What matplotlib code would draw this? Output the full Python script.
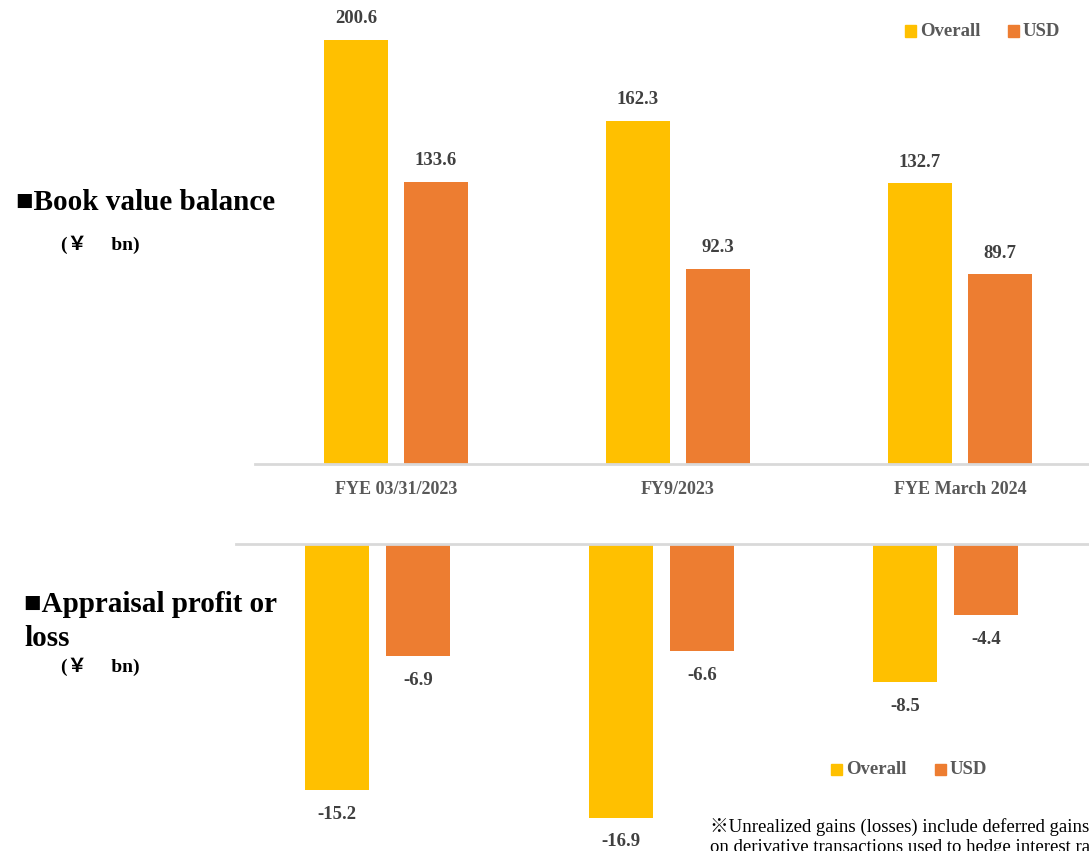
import matplotlib
matplotlib.use("Agg")
import matplotlib.pyplot as plt
from matplotlib.patches import Rectangle

categories = ["FYE 03/31/2023", "FY9/2023", "FYE March 2024"]
book_overall = [200.6, 162.3, 132.7]
book_usd = [133.6, 92.3, 89.7]
pl_overall = [-15.2, -16.9, -8.5]
pl_usd = [-6.9, -6.6, -4.4]
series_names = ["Overall", "USD"]

C_OVERALL = "#FFC000"
C_USD = "#ED7D31"
LABEL_GREY = "#595959"
VALUE_GREY = "#404040"
SERIF = ["Liberation Serif", "Noto Sans CJK JP", "DejaVu Serif"]

W, H = 1089, 851
fig = plt.figure(figsize=(W / 100, H / 100), dpi=100)


def px_axes(x0, x1, y_top, y_bot):
    return fig.add_axes([x0 / W, 1 - y_bot / H, (x1 - x0) / W, (y_bot - y_top) / H])


def ftext(x, y, s, **kw):
    """Place text with pixel coordinates measured from the top-left corner."""
    kw.setdefault("fontfamily", SERIF)
    kw.setdefault("ha", "left")
    kw.setdefault("va", "center")
    return fig.text(x / W, 1 - y / H, s, **kw)


def style(ax):
    for s in ax.spines.values():
        s.set_visible(False)
    ax.set_yticks([])
    ax.tick_params(axis="x", length=0)
    ax.patch.set_alpha(0)


bw = 0.225
off = 0.142
xs = list(range(len(categories)))

# Book value balance
ax1 = px_axes(255, 1101, 0, 464)
style(ax1)
b1 = ax1.bar([x - off for x in xs], book_overall, bw, color=C_OVERALL)
b2 = ax1.bar([x + off for x in xs], book_usd, bw, color=C_USD)
ax1.set_xlim(-0.5, 2.5)
ax1.set_ylim(0, 219.5)
ax1.axhline(0, color="#d9d9d9", lw=2, clip_on=False)
ax1.set_xticks(xs)
ax1.set_xticklabels(categories, fontfamily=SERIF, fontweight="bold",
                    fontsize=13, color=LABEL_GREY)
ax1.tick_params(axis="x", pad=12)
for bars in (b1, b2):
    for r in bars:
        ax1.annotate(f"{r.get_height():.1f}", (r.get_x() + r.get_width() / 2, r.get_height()),
                     xytext=(0, 9), textcoords="offset points", ha="center", va="bottom",
                     fontfamily=SERIF, fontweight="bold", fontsize=13.5, color=VALUE_GREY)

# Appraisal profit or loss
ax2 = px_axes(235.5, 1087.5, 544, 851)
style(ax2)
c1 = ax2.bar([x - off for x in xs], pl_overall, bw, color=C_OVERALL)
c2 = ax2.bar([x + off for x in xs], pl_usd, bw, color=C_USD)
ax2.set_xlim(-0.5, 2.5)
ax2.set_ylim(-18.97, 0)
ax2.axhline(0, color="#d9d9d9", lw=2, clip_on=False)
ax2.set_xticks([])
for bars in (c1, c2):
    for r in bars:
        v = r.get_height() + r.get_y()
        ax2.annotate(f"{v:.1f}", (r.get_x() + r.get_width() / 2, v),
                     xytext=(0, -11.5), textcoords="offset points", ha="center", va="top",
                     fontfamily=SERIF, fontweight="bold", fontsize=13.5, color=VALUE_GREY)


def legend_px(x_sq1, x_sq2, y):
    for xq, col, name in ((x_sq1, C_OVERALL, series_names[0]), (x_sq2, C_USD, series_names[1])):
        fig.patches.append(Rectangle((xq / W, 1 - (y + 5.5) / H), 11 / W, 11 / H,
                                     transform=fig.transFigure, color=col))
        ftext(xq + 15, y, name, fontweight="bold", fontsize=13.5, color=LABEL_GREY)


legend_px(905, 1008, 31)
legend_px(831, 935, 769)

# Section headings
ftext(16, 203, "■Book value balance", fontweight="bold", fontsize=21, color="black")
ftext(61, 245, "(￥\u3000 bn)", fontweight="bold", fontsize=14, color="black")
ftext(24, 605, "■Appraisal profit or", fontweight="bold", fontsize=21, color="black")
ftext(24, 638, "loss", fontweight="bold", fontsize=21, color="black")
ftext(61, 667, "(￥\u3000 bn)", fontweight="bold", fontsize=14, color="black")

# Footnote (second line runs past the lower edge)
ftext(710, 827, "※Unrealized gains (losses) include deferred gains",
      fontsize=13.5, color="black")
ftext(710, 848, "on derivative transactions used to hedge interest rate risk.",
      fontsize=13.5, color="black")

fig.savefig("out.png", dpi=100)
